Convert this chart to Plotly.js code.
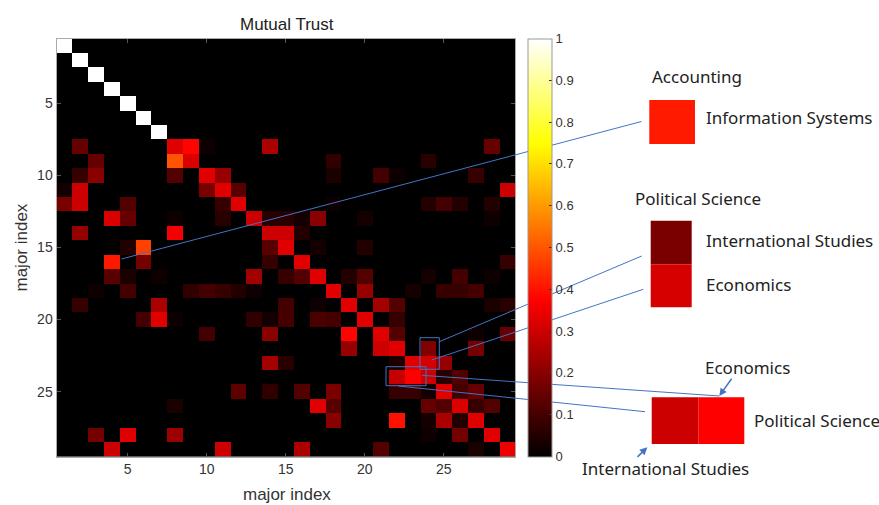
<!DOCTYPE html>
<html><head><meta charset="utf-8">
<script src="https://cdn.plot.ly/plotly-3.0.1.min.js"></script>
<style>html,body{margin:0;padding:0;background:#fff}#chart{width:879px;height:505px}</style>
</head><body><div id="chart"></div>
<script>
// ---- data ----
const majorIndex = Array.from({length: 29}, (_, i) => i + 1);
// non-zero cells per row (row i+1): columns and values
const trustCols = [
  [1],[2],[3],[4],[5],[6],[7],
  [2,8,9,10,14,28],
  [3,8,9,18,24],
  [2,3,8,10,11,18,21,22,27],
  [1,2,10,11,12,29],
  [1,2,5,11,12,18,24,25,26,28],
  [4,5,8,11,13,14,15,16,17,20,28],
  [2,8,14,15,16],
  [5,6,14,15,17,20],
  [4,6,14,16,29],
  [4,5,7,13,15,16,17,19,20,24,26,28],
  [3,5,9,10,11,12,13,18,20,23,25,26,27],
  [2,7,15,17,19,21,22,28,29],
  [6,7,8,13,14,15,17,18,20,22],
  [10,14,19,21,22,27,29],
  [19,21,22,24,27],
  [14,15,22,23,24,25],
  [22,23,24,25,26],
  [12,14,16,18,22,23,24,25,26,27],
  [8,17,18,24,25,26,27,28],
  [18,22,24,25,26,27],
  [3,5,8,24,26,28],
  [4,11,16,21,27,29]
];
const trustVals = [
  [1],[1],[1],[1],[1],[1],[1],
  [.15,.33,.38,.02,.25,.15],
  [.15,.5,.32,.07,.06],
  [.08,.2,.12,.33,.22,.04,.1,.02,.08],
  [.03,.3,.18,.33,.13,.3],
  [.18,.3,.12,.08,.33,.02,.05,.1,.05,.05],
  [.32,.15,.02,.06,.3,.06,.06,.03,.2,.03,.02],
  [.22,.36,.3,.3,.05],
  [.05,.47,.13,.33,.03,.05],
  [.41,.17,.08,.33,.08],
  [.13,.04,.02,.24,.08,.12,.33,.05,.12,.03,.1,.02],
  [.02,.1,.07,.1,.08,.05,.02,.33,.22,.03,.08,.08,.1],
  [.08,.25,.1,.02,.33,.24,.12,.04,.06],
  [.1,.33,.02,.07,.03,.1,.11,.1,.33,.08],
  [.1,.2,.38,.33,.12,.02,.15],
  [.22,.3,.33,.19,.17],
  [.24,.06,.04,.33,.31,.22],
  [.29,.375,.3,.06,.12],
  [.14,.07,.12,.18,.08,.08,.03,.33,.1,.15],
  [.04,.33,.13,.15,.12,.32,.08,.12],
  [.2,.4,.03,.25,.05,.33],
  [.17,.33,.23,.02,.17,.33],
  [.3,.3,.25,.12,.04,.35]
];
const axisTicks = [5, 10, 15, 20, 25];
const colorTicks = [0, 0.1, 0.2, 0.3, 0.4, 0.5, 0.6, 0.7, 0.8, 0.9, 1];
const colorTickText = ['0','0.1','0.2','0.3','0.4','0.5','0.6','0.7','0.8','0.9','1'];

// ---- build matrix ----
const z = majorIndex.map(() => majorIndex.map(() => 0));
trustCols.forEach((cols, r) => cols.forEach((c, k) => { z[r][c - 1] = trustVals[r][k]; }));

// ---- helpers: pixel -> paper ----
const W = 879, H = 505;
const px = x => x / W, py = y => 1 - y / H;
const blue = 'rgb(68,114,196)';
const lineShape = (x0, y0, x1, y1) => ({type: 'line', xref: 'paper', yref: 'paper',
  x0: px(x0), y0: py(y0), x1: px(x1), y1: py(y1), line: {color: blue, width: 1}, layer: 'above'});
const rectShape = (x0, y0, x1, y1, fill, lc) => ({type: 'rect', xref: 'paper', yref: 'paper',
  x0: px(x0), y0: py(y0), x1: px(x1), y1: py(y1), fillcolor: fill,
  line: {color: lc || 'rgba(0,0,0,0)', width: lc ? 1 : 0}, layer: 'above'});
const label = (text, x, y, opts) => Object.assign({text, xref: 'paper', yref: 'paper',
  x: px(x), y: py(y), showarrow: false, xanchor: 'left', yanchor: 'middle',
  font: {family: 'Noto Sans, sans-serif', size: 17, color: '#222'}}, opts || {});

const hot = [[0, 'rgb(0,0,0)'], [0.375, 'rgb(255,0,0)'], [0.75, 'rgb(255,255,0)'], [1, 'rgb(255,255,255)']];

const trace = {
  type: 'heatmap', x: majorIndex, y: majorIndex, z: z, zmin: 0, zmax: 1,
  colorscale: hot, zsmooth: false, hoverongaps: false,
  colorbar: {
    x: px(528), xanchor: 'left', xpad: 0, thickness: 24, thicknessmode: 'pixels',
    y: py(456.5), yanchor: 'bottom', ypad: 0, len: 418 / H, lenmode: 'fraction',
    tickvals: colorTicks, ticktext: colorTickText, ticks: 'inside', ticklen: 3,
    tickcolor: '#333', outlinewidth: 1, outlinecolor: '#999',
    tickfont: {family: 'Liberation Sans, Arial, sans-serif', size: 13, color: '#333'}
  }
};

const axisCommon = {
  tickvals: axisTicks, ticks: 'inside', ticklen: 4, tickcolor: '#555',
  showline: true, linecolor: '#aaa', linewidth: 1, mirror: 'ticks',
  showgrid: false, zeroline: false,
  tickfont: {family: 'Liberation Sans, Arial, sans-serif', size: 14, color: '#333'}
};

const layout = {
  width: W, height: H, margin: {l: 0, r: 0, t: 0, b: 0},
  paper_bgcolor: '#fff', plot_bgcolor: '#000', showlegend: false,
  xaxis: Object.assign({}, axisCommon, {domain: [px(56.5), px(515)], range: [0.5, 29.5]}),
  yaxis: Object.assign({}, axisCommon, {domain: [py(456.5), py(38.5)], range: [29.5, 0.5]}),
  shapes: [
    // highlight boxes on heatmap
    rectShape(420, 337.7, 439.3, 369.3, 'rgba(0,0,0,0)', blue),
    rectShape(386, 366.7, 426, 385.7, 'rgba(0,0,0,0)', blue),
    // connector lines
    lineShape(121.5, 259, 641.5, 121.5),
    lineShape(439.3, 341.7, 641.7, 256),
    lineShape(431.7, 360, 643.3, 289.3),
    lineShape(422, 375.3, 719.3, 396),
    lineShape(398.3, 386, 645, 411.7),
    // swatches
    rectShape(649.3, 100, 695, 144, 'rgb(255,26,0)'),
    rectShape(650.7, 220.7, 691.7, 264.3, 'rgb(122,0,0)'),
    rectShape(650.7, 264.3, 691.7, 307.3, 'rgb(215,0,0)'),
    rectShape(651.7, 397.3, 698.3, 444, 'rgb(205,0,0)'),
    rectShape(698.3, 397.3, 744.3, 444, 'rgb(255,0,0)')
  ],
  annotations: [
    {text: 'Mutual Trust', xref: 'paper', yref: 'paper', x: px(286.5), y: py(24), showarrow: false,
     xanchor: 'center', yanchor: 'middle', font: {family: 'Liberation Sans, Arial, sans-serif', size: 17, color: '#222'}},
    {text: 'major index', xref: 'paper', yref: 'paper', x: px(286.5), y: py(494), showarrow: false,
     xanchor: 'center', yanchor: 'middle', font: {family: 'Liberation Sans, Arial, sans-serif', size: 17, color: '#333'}},
    {text: 'major index', xref: 'paper', yref: 'paper', x: px(20.5), y: py(248), showarrow: false,
     textangle: -90, xanchor: 'center', yanchor: 'middle', font: {family: 'Liberation Sans, Arial, sans-serif', size: 17, color: '#333'}},
    label('Accounting', 650, 76),
    label('Information Systems', 704, 118),
    label('Political Science', 633, 198),
    label('International Studies', 704, 240),
    label('Economics', 704, 284),
    label('Economics', 703, 367),
    label('Political Science', 752, 420),
    label('International Studies', 580, 468),
    {text: '', xref: 'paper', yref: 'paper', x: px(719.3), y: py(396), ax: 13.4, ay: -18.7,
     showarrow: true, arrowhead: 2, arrowsize: 1, arrowwidth: 1.5, arrowcolor: blue},
    {text: '', xref: 'paper', yref: 'paper', x: px(647.3), y: py(447.3), ax: -11.3, ay: 11,
     showarrow: true, arrowhead: 2, arrowsize: 1, arrowwidth: 1.5, arrowcolor: blue}
  ]
};

Plotly.newPlot('chart', [trace], layout, {staticPlot: true, displayModeBar: false});
</script>
</body></html>
